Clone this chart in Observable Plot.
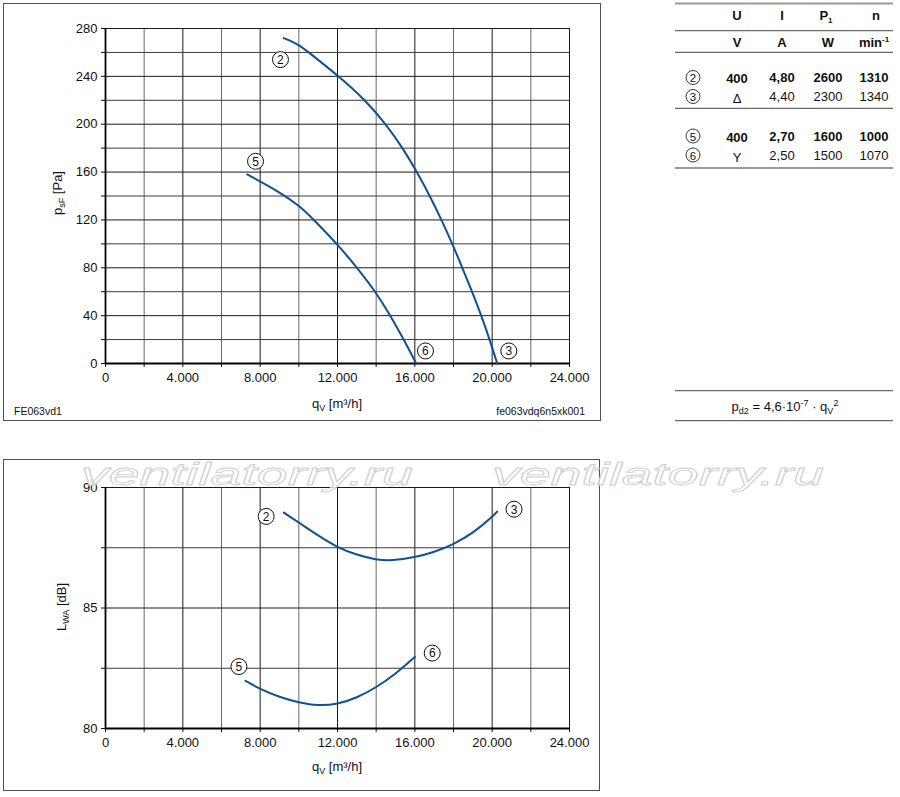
<!DOCTYPE html>
<html><head><meta charset="utf-8">
<script src="https://cdn.jsdelivr.net/npm/d3@7"></script>
<script src="https://cdn.jsdelivr.net/npm/@observablehq/plot@0.6"></script>
<style>
body{margin:0;background:#fff;font-family:"Liberation Sans",Arial,sans-serif;}
#root{position:relative;width:900px;height:797px;overflow:hidden;background:#fff;}
.box{position:absolute;border:1.5px solid #505050;box-sizing:border-box;}
.lbl{position:absolute;font-size:13px;color:#111;white-space:nowrap;transform:translate(-50%,-50%);line-height:1;}
.rot{transform:translate(-50%,-50%) rotate(-90deg);}
.sub{font-size:9px;position:relative;top:3px;}
.plotwrap{position:absolute;}
</style></head><body><div id="root"></div>
<script>
// ---------- data ----------
const qTicks = [0, 2000, 4000, 6000, 8000, 10000, 12000, 14000, 16000, 18000, 20000, 22000, 24000];
const qTickLabels = ["0", "", "4.000", "", "8.000", "", "12.000", "", "16.000", "", "20.000", "", "24.000"];
const pTicks = [0, 20, 40, 60, 80, 100, 120, 140, 160, 180, 200, 220, 240, 260, 280];
const pTickLabels = ["0", "", "40", "", "80", "", "120", "", "160", "", "200", "", "240", "", "280"];
const lTicks = [80, 82.5, 85, 87.5, 90];
const lTickLabels = ["80", "", "85", "", "90"];

// pressure curves (top chart)
const p23_q = [9220, 10000, 10520, 12070, 13450, 14500, 15380, 16110, 16780, 17380, 17940, 18460, 18960, 19440, 19870, 20260];
const p23_p = [272, 266.5, 260, 240, 220, 200, 180, 160, 140, 120, 100, 80, 60, 40, 20, 0];
const p56_q = [7330, 9050, 10090, 10780, 11980, 13020, 13970, 14740, 15430, 16070];
const p56_p = [158, 143, 131, 120, 100, 80, 60, 40, 20, 0];

// sound power curves (bottom chart)
const l23_q = [9220, 10000, 11000, 12000, 13000, 14000, 14800, 16000, 17000, 18000, 19000, 20000, 20260];
const l23_L = [88.96, 88.55, 88.0, 87.51, 87.2, 87.0, 86.96, 87.1, 87.32, 87.64, 88.1, 88.78, 89.0];
const l56_q = [7240, 8000, 9000, 10000, 11000, 12000, 13000, 14000, 15000, 16000];
const l56_L = [81.98, 81.63, 81.3, 81.08, 80.94, 81.01, 81.27, 81.7, 82.26, 82.97];

// curve markers
const topMarkId = ["2", "5", "6", "3"];
const topMarkQ = [9050, 7760, 16550, 20860];
const topMarkP = [254, 169, 10.5, 10.5];
const botMarkId = ["2", "3", "5", "6"];
const botMarkQ = [8310, 21130, 6900, 16900];
const botMarkL = [88.8, 89.1, 82.57, 83.13];

// table
const tableIds = ["2", "3", "5", "6"];
const tableU = ["400", "Δ", "400", "Y"];
const tableI = ["4,80", "4,40", "2,70", "2,50"];
const tableP = ["2600", "2300", "1600", "1500"];
const tableN = ["1310", "1340", "1000", "1070"];
const tableBold = [true, false, true, false];

// ---------- helpers ----------
const root = document.getElementById("root");
const BLUE = "#0f5192";
const FONT = "Liberation Sans, Arial, sans-serif";
function addBox(l, t, w, h) {
  const d = document.createElement("div");
  d.className = "box";
  Object.assign(d.style, {left: l + "px", top: t + "px", width: w + "px", height: h + "px"});
  root.appendChild(d);
}
function addLabel(html, x, y, cls = "", extra = {}) {
  const d = document.createElement("div");
  d.className = "lbl " + cls;
  d.innerHTML = html;
  Object.assign(d.style, {left: x + "px", top: y + "px"}, extra);
  root.appendChild(d);
  return d;
}
function place(svg, l, t) {
  const w = document.createElement("div");
  w.className = "plotwrap";
  w.style.left = l + "px"; w.style.top = t + "px";
  w.appendChild(svg);
  root.appendChild(w);
}
const toRows = (xs, ys, kx, ky) => xs.map((v, i) => ({[kx]: v, [ky]: ys[i]}));

addBox(3, 3, 598, 418);
addBox(3, 459, 597, 332);

function gridMarks(yTicks, yMajor) {
  return [
    Plot.ruleX(qTicks.filter(d => d % 4000 !== 0), {stroke: "#6a6a6a", strokeWidth: 1}),
    Plot.ruleX(qTicks.filter(d => d % 4000 === 0), {stroke: "#1a1a1a", strokeWidth: 1}),
    Plot.ruleY(yTicks.filter(d => !yMajor(d)), {stroke: "#3a3a3a", strokeWidth: 1}),
    Plot.ruleY(yTicks.filter(d => yMajor(d)), {stroke: "#1a1a1a", strokeWidth: 1})
  ];
}

// ---------- top chart ----------
const topMarks = toRows(topMarkQ, topMarkP, "q", "p").map((d, i) => ({...d, id: topMarkId[i]}));
const topPlot = Plot.plot({
  width: 600, height: 425,
  marginLeft: 105, marginRight: 31, marginTop: 28, marginBottom: 62,
  x: {domain: [0, 24000]},
  y: {domain: [0, 280]},
  style: {fontFamily: FONT, fontSize: "13px", color: "#111", background: "transparent", overflow: "visible"},
  marks: [
    ...gridMarks(pTicks, d => d % 40 === 0),
    Plot.axisX({ticks: qTicks, tickFormat: d => qTickLabels[qTicks.indexOf(d)], tickSize: 4, tickPadding: 5, fontSize: 13, label: null, stroke: "#111"}),
    Plot.axisY({ticks: pTicks, tickFormat: d => pTickLabels[pTicks.indexOf(d)], tickSize: 4, tickPadding: 4, fontSize: 13, label: null, stroke: "#111"}),
    Plot.ruleY([0], {stroke: "#000", strokeWidth: 1.8}),
    Plot.ruleX([0], {stroke: "#000", strokeWidth: 1.8}),
    Plot.line(toRows(p23_q, p23_p, "q", "p"), {x: "q", y: "p", curve: "basis", stroke: BLUE, strokeWidth: 2}),
    Plot.line(toRows(p56_q, p56_p, "q", "p"), {x: "q", y: "p", curve: "basis", stroke: BLUE, strokeWidth: 2}),
    Plot.dot(topMarks, {x: "q", y: "p", r: 8, fill: "white", stroke: "#111", strokeWidth: 1}),
    Plot.text(topMarks, {x: "q", y: "p", text: "id", fontSize: 12, fill: "#111", dy: 0.5})
  ]
});
place(topPlot, 0, 0);

// ---------- bottom chart ----------
const botMarks = toRows(botMarkQ, botMarkL, "q", "L").map((d, i) => ({...d, id: botMarkId[i]}));
const botPlot = Plot.plot({
  width: 600, height: 335,
  marginLeft: 105, marginRight: 31, marginTop: 27, marginBottom: 67,
  x: {domain: [0, 24000]},
  y: {domain: [80, 90]},
  style: {fontFamily: FONT, fontSize: "13px", color: "#111", background: "transparent", overflow: "visible"},
  marks: [
    ...gridMarks(lTicks, d => d % 5 === 0),
    Plot.axisX({ticks: qTicks, tickFormat: d => qTickLabels[qTicks.indexOf(d)], tickSize: 4, tickPadding: 5, fontSize: 13, label: null, stroke: "#111"}),
    Plot.axisY({ticks: lTicks, tickFormat: d => lTickLabels[lTicks.indexOf(d)], tickSize: 4, tickPadding: 4, fontSize: 13, label: null, stroke: "#111"}),
    Plot.ruleY([80], {stroke: "#000", strokeWidth: 1.8}),
    Plot.ruleX([0], {stroke: "#000", strokeWidth: 1.8}),
    Plot.line(toRows(l23_q, l23_L, "q", "L"), {x: "q", y: "L", curve: "basis", stroke: BLUE, strokeWidth: 2}),
    Plot.line(toRows(l56_q, l56_L, "q", "L"), {x: "q", y: "L", curve: "basis", stroke: BLUE, strokeWidth: 2}),
    Plot.dot(botMarks, {x: "q", y: "L", r: 8, fill: "white", stroke: "#111", strokeWidth: 1}),
    Plot.text(botMarks, {x: "q", y: "L", text: "id", fontSize: 12, fill: "#111", dy: 0.5})
  ]
});
place(botPlot, 0, 460);

// ---------- axis labels & captions ----------
addLabel('p<span class="sub">sF</span> [Pa]', 57, 193, "rot");
addLabel('q<span class="sub">V</span> [m³/h]', 337, 403);
addLabel('L<span class="sub">WA</span> [dB]', 61, 607, "rot");
addLabel('q<span class="sub">V</span> [m³/h]', 337, 766);
addLabel('FE063vd1', 14, 411, "", {transform: "translate(0,-50%)", fontSize: "10.5px"});
addLabel('fe063vdq6n5xk001', 585, 411, "", {transform: "translate(-100%,-50%)", fontSize: "10.5px"});

// ---------- overlay svg: table, formula, watermark ----------
const ov = d3.select(root).append("svg")
  .attr("width", 900).attr("height", 797)
  .style("position", "absolute").style("left", 0).style("top", 0)
  .style("font-family", FONT).style("pointer-events", "none");

// watermark
["ventilatorry.ru", "ventilatorry.ru"].forEach((t, i) => {
  ov.append("text").text(t)
    .attr("x", i === 0 ? 81 : 492).attr("y", 485)
    .attr("textLength", 332).attr("lengthAdjust", "spacingAndGlyphs")
    .attr("font-size", 31).attr("font-style", "italic")
    .attr("fill", "white").attr("fill-opacity", 0.8)
    .attr("stroke", "#cfcfcf").attr("stroke-width", 0.8);
});

// table lines
const TL = 675, TR = 893;
[[3.5, "#9a9a9a", 2], [30.7, "#444", 1], [52.3, "#444", 1], [108.3, "#444", 1], [168, "#9a9a9a", 2],
 [390.7, "#444", 1], [420.7, "#444", 1]].forEach(([y, c, w]) => {
  ov.append("line").attr("x1", TL).attr("x2", TR).attr("y1", y).attr("y2", y)
    .attr("stroke", c).attr("stroke-width", w);
});
const colX = [737, 782, 828, 874];
function tText(s, x, y, bold, anchor = "middle") {
  return ov.append("text").attr("x", x).attr("y", y).attr("text-anchor", anchor)
    .attr("font-size", 13).attr("font-weight", bold ? "bold" : "normal").attr("fill", "#111").text(s);
}
// header
tText("U", colX[0], 20, true);
tText("I", colX[1], 20, true);
const pt = tText("P", colX[2] - 2, 20, true);
pt.append("tspan").attr("font-size", 8).attr("dy", 3).text("1");
tText("n", colX[3] + 2, 20, true);
tText("V", colX[0], 47, true);
tText("A", colX[1], 47, true);
tText("W", colX[2], 47, true);
const mt = tText("min", colX[3], 47, true);
mt.append("tspan").attr("font-size", 8).attr("dy", -5).text("-1");
// rows
const rowY = [82, 101, 140.5, 159.5];
tableIds.forEach((id, i) => {
  ov.append("circle").attr("cx", 693).attr("cy", rowY[i] - 4.5).attr("r", 7)
    .attr("fill", "white").attr("stroke", "#222").attr("stroke-width", 0.9);
  tText(id, 693, rowY[i], false).attr("font-size", 11.5);
  tText(tableU[i], colX[0], rowY[i] + (tableBold[i] ? 1 : 2), tableBold[i]);
  tText(tableI[i], colX[1], rowY[i], tableBold[i]);
  tText(tableP[i], colX[2], rowY[i], tableBold[i]);
  tText(tableN[i], colX[3], rowY[i], tableBold[i]);
});
// formula
const ft = ov.append("text").attr("x", 785).attr("y", 411).attr("text-anchor", "middle")
  .attr("font-size", 13).attr("fill", "#111");
ft.append("tspan").text("p");
ft.append("tspan").attr("font-size", 9).attr("dy", 3).text("d2");
ft.append("tspan").attr("dy", -3).text(" = 4,6·10");
ft.append("tspan").attr("font-size", 9).attr("dy", -5).text("-7");
ft.append("tspan").attr("dy", 5).text(" · q");
ft.append("tspan").attr("font-size", 9).attr("dy", 3).text("V");
ft.append("tspan").attr("font-size", 9).attr("dy", -8).text("2");
</script>
</body></html>
